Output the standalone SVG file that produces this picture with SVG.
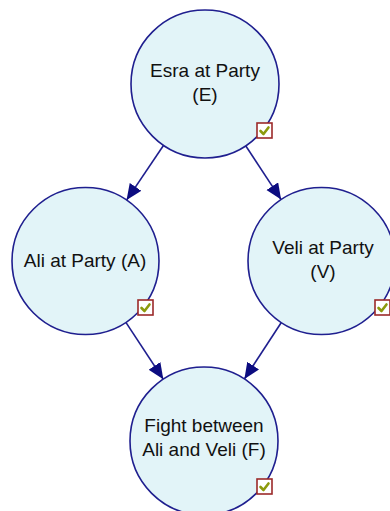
<svg xmlns="http://www.w3.org/2000/svg" width="390" height="511" viewBox="0 0 390 511">
  <style>
    .node { fill: #e2f4f8; stroke: #1f1f8f; stroke-width: 1.6; }
    .label { font-family: "Liberation Sans", Arial, sans-serif; font-size: 19px; fill: #111; text-anchor: middle; }
    .edge { stroke: #1f1f8f; stroke-width: 1.6; fill: none; marker-end: url(#arrow); }
    .chk-box { fill: #ffffff; stroke: #9b2a2a; stroke-width: 1.6; }
    .chk-mark { fill: none; stroke: #8c9a0c; stroke-width: 2.6; stroke-linecap: round; stroke-linejoin: round; }
  </style>
  <defs>
    <marker id="arrow" markerUnits="userSpaceOnUse" markerWidth="18" markerHeight="16" refX="16" refY="7" orient="auto">
      <path d="M0,0 L16,7 L0,14 Z" fill="#0c0c80"/>
    </marker>
    <g id="check">
      <rect class="chk-box" x="0" y="0" width="15" height="15"/>
      <path class="chk-mark" d="M3.5,8 L6.5,11 L11.5,4.5"/>
    </g>
  </defs>

  <rect width="390" height="511" fill="#ffffff"/>

  <g id="connectors">
    <line class="edge" x1="163.6" y1="145.3" x2="126.6" y2="200.1"/>
    <line class="edge" x1="245.7" y1="145.8" x2="281.1" y2="199.6"/>
    <line class="edge" x1="125.9" y1="322.4" x2="163.3" y2="379.2"/>
    <line class="edge" x1="281.3" y1="322.5" x2="244.4" y2="379.0"/>
  </g>

  <g id="node-E">
    <circle class="node" cx="205" cy="84" r="74"/>
    <text class="label" x="205" y="77">Esra at Party</text>
    <text class="label" x="205" y="101">(E)</text>
    <use href="#check" x="257" y="123"/>
  </g>

  <g id="node-A">
    <circle class="node" cx="85.5" cy="261" r="73.5"/>
    <text class="label" x="85" y="267">Ali at Party (A)</text>
    <use href="#check" x="138" y="300"/>
  </g>

  <g id="node-V">
    <circle class="node" cx="321.5" cy="261" r="73.5"/>
    <text class="label" x="323" y="254">Veli at Party</text>
    <text class="label" x="323" y="278">(V)</text>
    <use href="#check" x="375" y="300"/>
  </g>

  <g id="node-F">
    <circle class="node" cx="204" cy="441" r="74"/>
    <text class="label" x="204" y="432">Fight between</text>
    <text class="label" x="204" y="456">Ali and Veli (F)</text>
    <use href="#check" x="257" y="479"/>
  </g>
</svg>
